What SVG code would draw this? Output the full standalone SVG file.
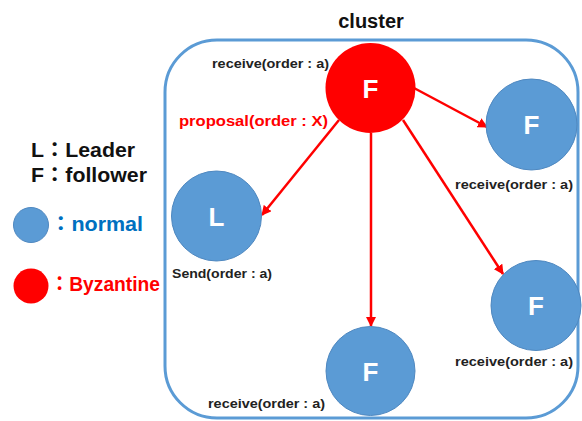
<svg xmlns="http://www.w3.org/2000/svg" width="582" height="421" viewBox="0 0 582 421">
<style>
.lbl{font-family:"Liberation Sans","Noto Sans CJK JP",sans-serif;font-weight:bold;font-size:13px;fill:#222}
.nodeB{fill:#5B9BD5;stroke:#4F88C0;stroke-width:1}
.nodeR{fill:#FF0000}
.ltr{font-family:"Liberation Sans",sans-serif;font-weight:bold;font-size:26px;fill:#fff;text-anchor:middle}
.leg{font-family:"Liberation Sans","Noto Sans CJK JP",sans-serif;font-weight:bold;font-size:20px}
.edge{stroke:#FF0000;stroke-width:2.5;fill:none;marker-end:url(#ah)}
</style>
<defs>
<marker id="ah" viewBox="0 0 10 10" refX="9" refY="5" markerWidth="4" markerHeight="4" orient="auto" markerUnits="strokeWidth">
<path d="M0,0 L10,5 L0,10 z" fill="#FF0000"/>
</marker>
</defs>
<rect width="582" height="421" fill="#fff"/>
<g id="cluster">
<rect x="165" y="40" width="413" height="378" rx="52" ry="52" fill="none" stroke="#5B9BD5" stroke-width="3"/>
<text x="371" y="28" class="leg" fill="#111" text-anchor="middle">cluster</text>
</g>
<g id="legend">
<text x="31" y="157" class="leg" fill="#111" textLength="104" lengthAdjust="spacingAndGlyphs">L：Leader</text>
<text x="31" y="182" class="leg" fill="#111" textLength="116" lengthAdjust="spacingAndGlyphs">F：follower</text>
<circle cx="31" cy="225" r="17.5" class="nodeB"/>
<text x="50" y="231" class="leg" fill="#0070C0" font-size="19" textLength="93" lengthAdjust="spacingAndGlyphs">：normal</text>
<circle cx="31" cy="286" r="17.5" class="nodeR"/>
<text x="50" y="291" class="leg" fill="#FF0000" font-size="19" textLength="110" lengthAdjust="spacingAndGlyphs">：Byzantine</text>
</g>
<g id="connectors">
<line x1="339" y1="120" x2="262" y2="215" class="edge"/>
<line x1="414" y1="88" x2="487" y2="127" class="edge"/>
<line x1="403" y1="120" x2="503" y2="274" class="edge"/>
<line x1="371" y1="133" x2="371" y2="326" class="edge"/>
</g>
<g id="nodeByz">
<circle cx="370.5" cy="88" r="45" class="nodeR"/>
<text x="370.5" y="97.5" class="ltr">F</text>
<text x="212" y="68" class="lbl" textLength="117" lengthAdjust="spacingAndGlyphs">receive(order : a)</text>
<text x="179" y="126" class="lbl" style="fill:#FF0000;font-size:14px" textLength="149" lengthAdjust="spacingAndGlyphs">proposal(order : X)</text>
</g>
<g id="nodeL">
<circle cx="216.5" cy="216" r="45" class="nodeB"/>
<text x="216.5" y="225.5" class="ltr">L</text>
<text x="172" y="278" class="lbl" textLength="100" lengthAdjust="spacingAndGlyphs">Send(order : a)</text>
</g>
<g id="nodeF1">
<circle cx="531.5" cy="124.5" r="45.5" class="nodeB"/>
<text x="531.5" y="134" class="ltr">F</text>
<text x="455" y="189" class="lbl" textLength="118" lengthAdjust="spacingAndGlyphs">receive(order : a)</text>
</g>
<g id="nodeF2">
<circle cx="536" cy="305.5" r="45" class="nodeB"/>
<text x="536" y="315" class="ltr">F</text>
<text x="455" y="366" class="lbl" textLength="118" lengthAdjust="spacingAndGlyphs">receive(order : a)</text>
</g>
<g id="nodeF3">
<circle cx="370.5" cy="371" r="44.5" class="nodeB"/>
<text x="370.5" y="380.5" class="ltr">F</text>
<text x="208" y="408" class="lbl" textLength="117" lengthAdjust="spacingAndGlyphs">receive(order : a)</text>
</g>
</svg>
